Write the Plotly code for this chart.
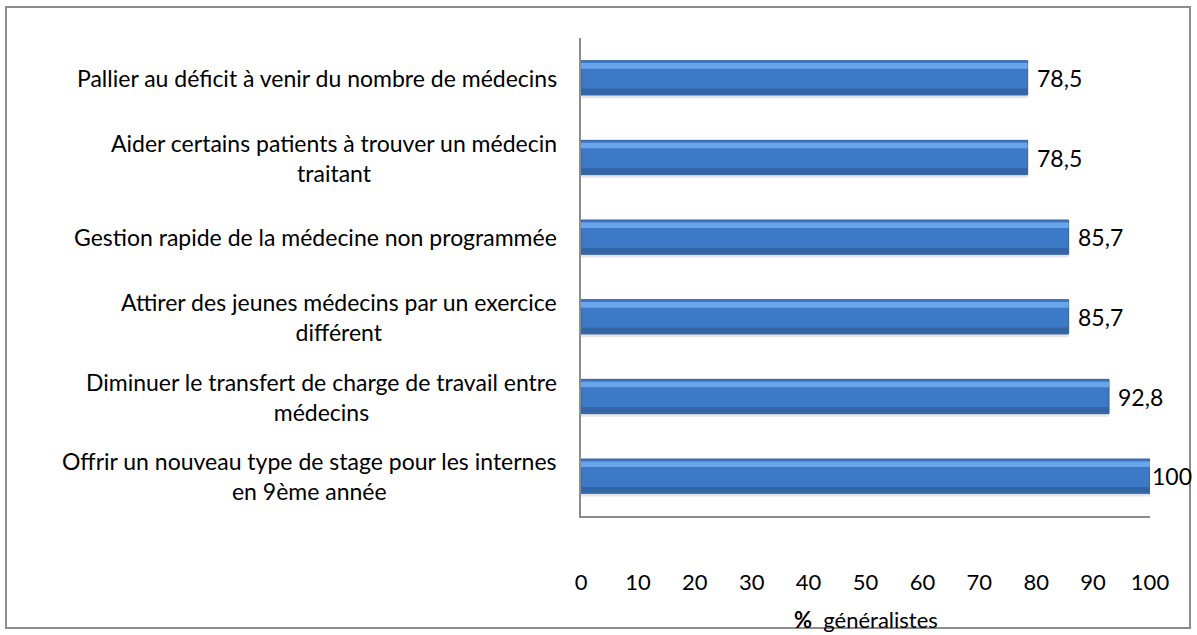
import plotly.graph_objects as go

categories = [
    "Offrir un nouveau type de stage pour les internes<br>en 9ème année",
    "Diminuer le transfert de charge de travail entre<br>médecins",
    "Attirer des jeunes médecins par un exercice<br>différent",
    "Gestion rapide de la médecine non programmée",
    "Aider certains patients à trouver un médecin<br>traitant",
    "Pallier au déficit à venir du nombre de médecins",
]
values = [100, 92.8, 85.7, 85.7, 78.5, 78.5]
tick_vals = [0, 10, 20, 30, 40, 50, 60, 70, 80, 90, 100]

FONT = "Lato"
W, H = 1197, 635
L, R, T, B = 581, 47, 38, 119
pw, ph = W - L - R, H - T - B
pos = list(range(len(categories)))

fig = go.Figure()
# faint shadow under the bars
fig.add_trace(go.Bar(
    y=[p - 0.235 for p in pos], x=values, orientation="h", width=0.04,
    marker=dict(color="rgba(0,0,0,0.10)", line=dict(width=0)),
    hoverinfo="skip", showlegend=False,
))
# main bar
fig.add_trace(go.Bar(
    y=pos, x=values, orientation="h", width=0.43,
    marker=dict(color="#3C79C6", line=dict(color="#2F5F9C", width=1)),
    hoverinfo="skip", showlegend=False,
))
# top highlight
fig.add_trace(go.Bar(
    y=[p + 0.15 for p in pos], x=values, orientation="h", width=0.07,
    marker=dict(color="#6AA5EC", line=dict(width=0)),
    hoverinfo="skip", showlegend=False,
))
# bottom darker band
fig.add_trace(go.Bar(
    y=[p - 0.17 for p in pos], x=values, orientation="h", width=0.07,
    marker=dict(color="#3264A6", line=dict(width=0)),
    hoverinfo="skip", showlegend=False,
))
fig.update_layout(barmode="overlay")

annotations = []
for i, v in enumerate(values):
    annotations.append(dict(
        x=v, y=i, xref="x", yref="y", text=f"{v:g}".replace(".", ","),
        showarrow=False, xanchor="left", xshift=0 if v >= 100 else 7,
        font=dict(family=FONT, size=23, color="#000000"),
    ))
for i, c in enumerate(categories):
    annotations.append(dict(
        x=0, y=i, xref="paper", yref="y", text=c, showarrow=False,
        xanchor="right", align="center", xshift=-22,
        font=dict(family=FONT, size=23, color="#000000"),
    ))
annotations.append(dict(
    x=0.5, y=-(619 - 516) / ph, xref="paper", yref="paper",
    text="<b>%</b>  généralistes", showarrow=False, yanchor="middle",
    font=dict(family=FONT, size=22, color="#000000"),
))

fig.update_layout(
    width=W, height=H,
    margin=dict(l=L, r=R, t=T, b=B),
    paper_bgcolor="white", plot_bgcolor="white",
    annotations=annotations,
    xaxis=dict(
        range=[0, 100], tickvals=tick_vals, showgrid=False, zeroline=False,
        showline=True, linecolor="#8C8C8C", linewidth=2,
        ticks="", ticklabelstandoff=46,
        tickfont=dict(family=FONT, size=22, color="#000000"),
    ),
    yaxis=dict(
        range=[-0.5, len(categories) - 0.5], showticklabels=False,
        showgrid=False, zeroline=False, showline=True,
        linecolor="#8C8C8C", linewidth=2, ticks="",
    ),
    shapes=[dict(
        type="rect", xref="paper", yref="paper",
        x0=(6 - L) / pw, x1=(1190 - L) / pw,
        y0=(T + ph - 628) / ph, y1=(T + ph - 7) / ph,
        line=dict(color="#8C8C8C", width=2), fillcolor="rgba(0,0,0,0)", layer="below",
    )],
)

fig.write_html("out.html", config={"displayModeBar": False},
               post_script="document.body.style.margin='0px';")
